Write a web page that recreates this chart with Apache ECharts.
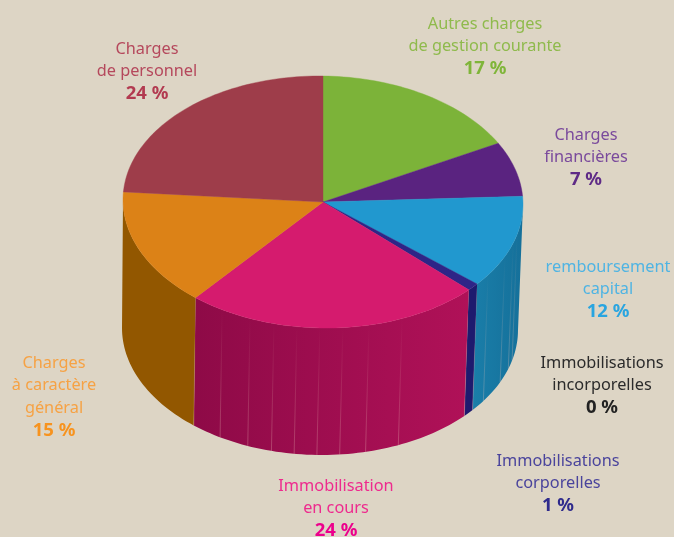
<!DOCTYPE html>
<html>
<head>
<meta charset="utf-8">
<style>
html, body { margin: 0; padding: 0; background: #ddd5c5; }
#chart { width: 674px; height: 537px; }
</style>
<script src="https://cdn.jsdelivr.net/npm/echarts@6/dist/echarts.min.js"></script>
</head>
<body>
<div id="chart"></div>
<script>
// data, clockwise from 12 o'clock
var categories = [
    'Autres charges\nde gestion courante',
    'Charges\nfinancières',
    'remboursement\ncapital',
    'Immobilisations\ncorporelles',
    'Immobilisations\nincorporelles',
    'Immobilisation\nen cours',
    'Charges\nà caractère\ngénéral',
    'Charges\nde personnel'
];
var values = [17, 7, 12, 1, 0, 24, 15, 24];

// colours
var topColors = ['#7cb339', '#5a2380', '#2198cf', '#2e2587', '#222222', '#d51b6e', '#dc8217', '#9e3d4a'];
var wallLeft = ['#7cb339', '#5a2380', '#1a7ea9', '#1e1a6e', '#222222', '#8e0a47', '#925700', '#9e3d4a'];
var wallRight = ['#7cb339', '#5a2380', '#15709a', '#1e1a6e', '#222222', '#b01158', '#925700', '#9e3d4a'];
var labelColors = ['#8fba4c', '#7a4a9c', '#4fb4e3', '#4a449c', '#2b2b2b', '#ee2a8e', '#f6a244', '#b5485c'];
var percentColors = ['#7fb539', '#5e2a86', '#29a5e0', '#2e2a8c', '#222222', '#ec008c', '#f7931e', '#b23a50'];

// geometry of the drum (tilt = slight shear of the ellipse)
var topEllipse = { cx: 323, cy: 202, rx: 200, ry: 126, tilt: 0.011 };
var bottomEllipse = { cx: 320, cy: 329, rx: 198, ry: 126, tilt: 0.005 };
var seamAngles = [104, 108, 114.5, 124.4, 129.6, 133.2, 156.7, 166.7, 174.3, 180.9, 187.5, 194.2, 201.4, 210.3, 219.6];

// label anchors: centre x, top y
var labelPos = [[485, 12], [586, 123], [608, 255], [558, 449], [602, 351], [336, 474], [54, 351], [147, 37]];

var total = values.reduce(function (a, b) { return a + b }, 0);

function sliceAngles(i) {
    var before = 0;
    for (var k = 0; k < i; k++) before += values[k];
    return [before / total * 360, (before + values[i]) / total * 360];
}

function pt(e, deg) {
    var r = deg * Math.PI / 180;
    var dx = e.rx * Math.sin(r);
    return [e.cx + dx, e.cy - e.ry * Math.cos(r) + dx * e.tilt];
}

function arc(e, a, b) {
    var pts = [];
    var n = Math.max(2, Math.ceil(Math.abs(b - a) / 1.5));
    for (var i = 0; i <= n; i++) pts.push(pt(e, a + (b - a) * i / n));
    return pts;
}

function renderWall(params, api) {
    var ang = sliceAngles(params.dataIndex);
    var a = Math.max(ang[0], 90), b = Math.min(ang[1], 270);
    if (b <= a) return null;
    var i = params.dataIndex;
    var pts = arc(topEllipse, a, b).concat(arc(bottomEllipse, b, a));
    return {
        type: 'polygon',
        shape: { points: pts },
        style: {
            fill: {
                type: 'linear', x: 0, y: 0, x2: 1, y2: 0,
                colorStops: [{ offset: 0, color: wallLeft[i] }, { offset: 1, color: wallRight[i] }]
            }
        }
    };
}

function renderSeam(params, api) {
    var deg = api.value(0);
    var p1 = pt(topEllipse, deg), p2 = pt(bottomEllipse, deg);
    return {
        type: 'line',
        shape: { x1: p1[0], y1: p1[1], x2: p2[0], y2: p2[1] },
        style: {
            lineWidth: 0.8,
            stroke: {
                type: 'linear', x: 0, y: 0, x2: 0, y2: 1, global: false,
                colorStops: [
                    { offset: 0, color: 'rgba(235,190,170,0)' },
                    { offset: 1, color: 'rgba(240,200,190,0.36)' }
                ]
            }
        }
    };
}

function renderTop(params, api) {
    var i = params.dataIndex;
    if (!api.value(0)) return null;
    var ang = sliceAngles(i);
    var pts = [[topEllipse.cx, topEllipse.cy]].concat(arc(topEllipse, ang[0], ang[1]));
    return {
        type: 'polygon',
        shape: { points: pts },
        style: { fill: topColors[i], stroke: topColors[i], lineWidth: 0.4 }
    };
}

var labelTexts = categories.map(function (name, i) {
    return {
        type: 'text',
        x: labelPos[i][0],
        y: labelPos[i][1] + 1,
        silent: true,
        style: {
            text: name.split('\n').map(function (l) { return '{t|' + l + '}' }).join('\n') + '\n{p|' + values[i] + ' %}',
            align: 'center',
            verticalAlign: 'top',
            rich: {
                t: { fontFamily: 'Noto Sans', fontSize: 16.3, lineHeight: 22.4, fill: labelColors[i], color: labelColors[i], align: 'center' },
                p: { fontFamily: 'Noto Sans', fontSize: 18.5, fontWeight: 'bold', lineHeight: 22.4, fill: percentColors[i], color: percentColors[i], align: 'center' }
            }
        }
    };
});

var myChart = echarts.init(document.getElementById('chart'), null, { renderer: 'canvas' });
var option = {
    animation: false,
    backgroundColor: '#ddd5c5',
    series: [
        { type: 'custom', coordinateSystem: 'none', z: 1, renderItem: renderWall, data: values.map(function (v) { return [v] }) },
        { type: 'custom', coordinateSystem: 'none', z: 2, renderItem: renderSeam, data: seamAngles.map(function (v) { return [v] }) },
        { type: 'custom', coordinateSystem: 'none', z: 3, renderItem: renderTop, data: values.map(function (v) { return [v] }) }
    ],
    graphic: { elements: labelTexts }
};
myChart.setOption(option);
</script>
</body>
</html>
